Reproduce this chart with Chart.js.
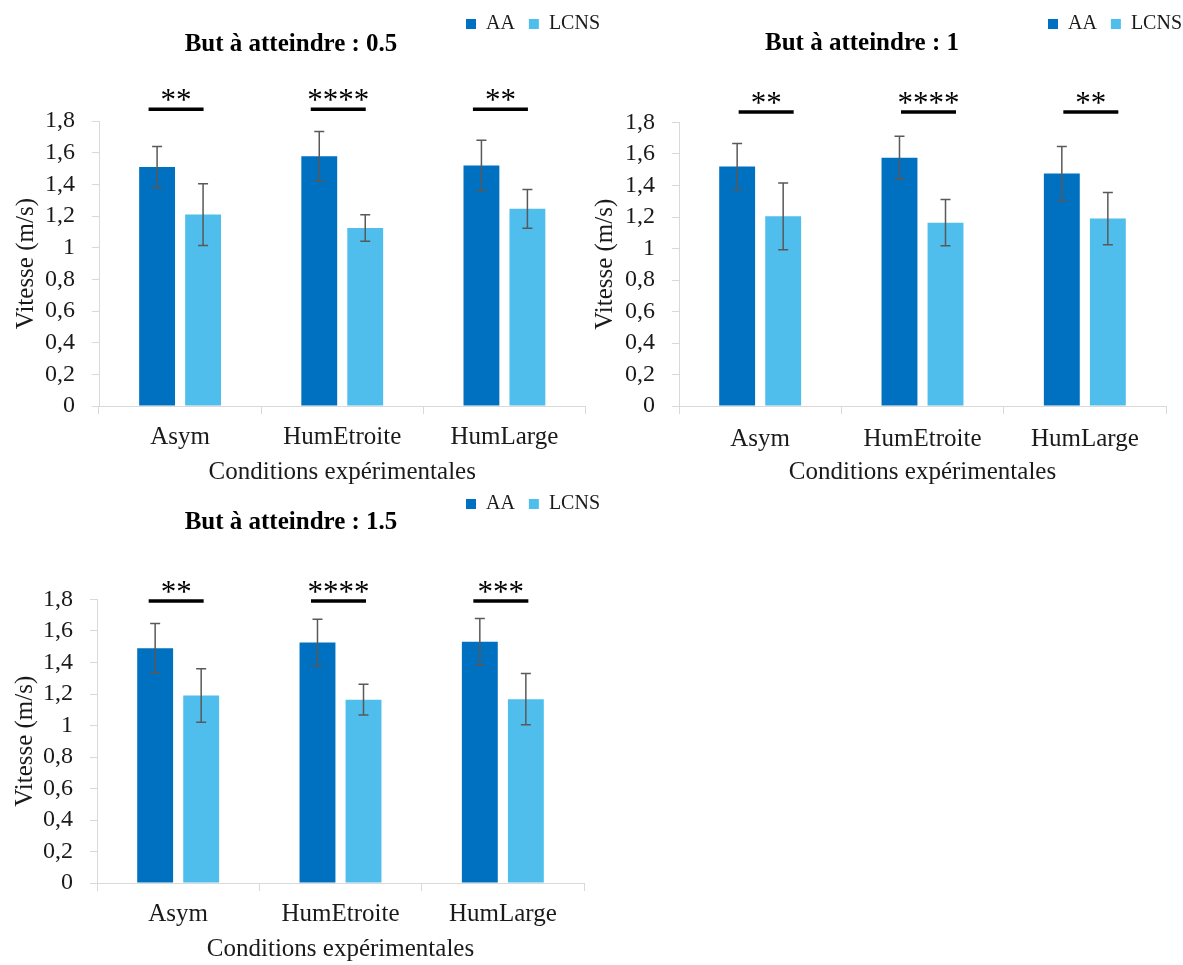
<!DOCTYPE html>
<html>
<head>
<meta charset="utf-8">
<script src="https://cdn.jsdelivr.net/npm/chart.js@4.4.1/dist/chart.umd.min.js"></script>
<style>
  body { margin: 0; background: #fff; overflow: hidden; }
  #page { position: relative; width: 1183px; height: 965px; overflow: hidden; background: #fff; }
  .box { position: absolute; }
</style>
</head>
<body>
<div id="page">
  <div class="box" id="box1"><canvas id="chart1"></canvas></div>
  <div class="box" id="box2"><canvas id="chart2"></canvas></div>
  <div class="box" id="box3"><canvas id="chart3"></canvas></div>
</div>
<script>
// data
const categories = ["Asym", "HumEtroite", "HumLarge"];
const seriesNames = ["AA", "LCNS"];
const chartTitles = ["But à atteindre : 0.5", "But à atteindre : 1", "But à atteindre : 1.5"];
const yTitle = "Vitesse (m/s)";
const xTitle = "Conditions expérimentales";
const yMax = 1.8;
const yStep = 0.2;

// goal 0.5
const aa05 = [1.51, 1.578, 1.52];
const aa05Err = [0.13, 0.157, 0.16];
const lcns05 = [1.21, 1.125, 1.246];
const lcns05Err = [0.195, 0.084, 0.123];
const stars05 = ["**", "****", "**"];

// goal 1
const aa1 = [1.52, 1.576, 1.476];
const aa1Err = [0.147, 0.136, 0.172];
const lcns1 = [1.204, 1.164, 1.19];
const lcns1Err = [0.212, 0.147, 0.166];
const stars1 = ["**", "****", "**"];

// goal 1.5
const aa15 = [1.49, 1.527, 1.532];
const aa15Err = [0.157, 0.147, 0.148];
const lcns15 = [1.19, 1.164, 1.167];
const lcns15Err = [0.17, 0.098, 0.163];
const stars15 = ["**", "****", "***"];

// height of the significance bars, in m/s
const sigLevels = [1.875, 1.867, 1.79];

const colors = ["#0070C0", "#4FBEEC"];
const FONT = "'Liberation Serif', 'Times New Roman', serif";

// error bars drawn from the bar elements
const errorBars = {
  id: "errorBars",
  afterDatasetsDraw(chart) {
    const { ctx } = chart;
    const y = chart.scales.y;
    ctx.save();
    ctx.strokeStyle = "#595959";
    ctx.lineWidth = 1.5;
    chart.data.datasets.forEach((ds, i) => {
      chart.getDatasetMeta(i).data.forEach((bar, j) => {
        const top = y.getPixelForValue(ds.data[j] + ds.errors[j]);
        const bot = y.getPixelForValue(ds.data[j] - ds.errors[j]);
        ctx.beginPath();
        ctx.moveTo(bar.x, top); ctx.lineTo(bar.x, bot);
        ctx.moveTo(bar.x - 5, top); ctx.lineTo(bar.x + 5, top);
        ctx.moveTo(bar.x - 5, bot); ctx.lineTo(bar.x + 5, bot);
        ctx.stroke();
      });
    });
    ctx.restore();
  }
};

// significance lines and stars above each group
const signif = {
  id: "signif",
  afterDraw(chart, args, opts) {
    const { ctx } = chart;
    const x = chart.scales.x, y = chart.scales.y;
    const yy = y.getPixelForValue(opts.level);
    ctx.save();
    ctx.strokeStyle = "#000";
    ctx.fillStyle = "#000";
    ctx.lineWidth = 3.5;
    ctx.font = "31px " + FONT;
    ctx.textAlign = "center";
    ctx.textBaseline = "alphabetic";
    opts.stars.forEach((s, i) => {
      const cx = x.getPixelForValue(i) + opts.shift;
      ctx.beginPath();
      ctx.moveTo(cx - 27.5, yy); ctx.lineTo(cx + 27.5, yy);
      ctx.stroke();
      ctx.fillText(s, cx, yy + 1);
    });
    ctx.restore();
  }
};

function fmt(v) {
  return String(Math.round(v * 10) / 10).replace(".", ",");
}

function makeChart(id, lay, title, aa, aaErr, lcns, lcnsErr, stars, level) {
  const box = document.getElementById("box" + id);
  box.style.left = lay.left + "px";
  box.style.top = lay.top + "px";
  box.style.width = lay.width + "px";
  box.style.height = lay.height + "px";

  const ctx = document.getElementById("chart" + id).getContext("2d");
  return new Chart(ctx, {
    type: "bar",
    data: {
      labels: categories,
      datasets: [
        { label: seriesNames[0], data: aa, errors: aaErr, backgroundColor: colors[0], borderWidth: 0,
          categoryPercentage: 0.567, barPercentage: 0.78 },
        { label: seriesNames[1], data: lcns, errors: lcnsErr, backgroundColor: colors[1], borderWidth: 0,
          categoryPercentage: 0.567, barPercentage: 0.78 },
      ],
    },
    options: {
      responsive: true,
      maintainAspectRatio: false,
      animation: false,
      layout: { padding: 0, autoPadding: false },
      plugins: {
        legend: {
          position: "top",
          align: "end",
          weight: 3000,
          labels: {
            boxWidth: 10, boxHeight: 10, padding: 14,
            color: "#1a1a1a",
            font: { family: FONT, size: 20 },
          },
        },
        title: {
          display: true,
          text: title,
          color: "#000",
          font: { family: FONT, size: 25, weight: "bold", lineHeight: 1.2 },
          padding: { top: lay.titleTop, bottom: lay.titleBottom },
        },
        tooltip: { enabled: false },
        signif: { level: level, stars: stars, shift: lay.sigShift },
      },
      scales: {
        x: {
          grid: { display: true, offset: true, drawOnChartArea: false, tickLength: 8, color: "#d9d9d9" },
          border: { color: "#d9d9d9" },
          ticks: { color: "#1a1a1a", font: { family: FONT, size: 25 }, padding: lay.xTickPad, maxRotation: 0 },
          title: { display: true, text: xTitle, color: "#1a1a1a", font: { family: FONT, size: 25 },
            padding: { top: 0, bottom: lay.xTitlePad } },
          afterFit(a) { a.height = lay.xHeight; },
        },
        y: {
          min: 0, max: yMax,
          grid: { display: true, drawOnChartArea: false, tickLength: 7, color: "#d9d9d9" },
          border: { color: "#d9d9d9" },
          ticks: { stepSize: yStep, autoSkip: false, color: "#1a1a1a", font: { family: FONT, size: 24 }, padding: 17,
            callback: (v) => fmt(v) },
          title: { display: true, text: yTitle, color: "#1a1a1a", font: { family: FONT, size: 25 },
            padding: { top: lay.yTitlePad, bottom: 0 } },
          afterFit(a) { a.width = lay.yWidth; },
        },
        gap: {
          position: "right",
          display: true,
          grid: { display: false },
          border: { display: false },
          ticks: { display: false },
          afterFit(a) { a.width = lay.rightGap; },
        },
      },
    },
    plugins: [errorBars, signif],
  });
}

const lay1 = { left: -32, top: 0, width: 646, height: 490, yWidth: 131, rightGap: 28.5, yTitlePad: 43.6,
  titleTop: -14, titleBottom: 61.2, xHeight: 84, xTickPad: 8, xTitlePad: 3, sigShift: -4 };
const lay2 = { left: 528, top: 0, width: 668, height: 490, yWidth: 151, rightGap: 30, yTitlePad: 62.6,
  titleTop: -15.4, titleBottom: 63.9, xHeight: 84, xTickPad: 10, xTitlePad: 2.5, sigShift: 6 };
const lay3 = { left: -32, top: 480, width: 646, height: 485, yWidth: 129, rightGap: 30, yTitlePad: 42.6,
  titleTop: -16.4, titleBottom: 61.9, xHeight: 82, xTickPad: 8, xTitlePad: 1, sigShift: -2 };

makeChart(1, lay1, chartTitles[0], aa05, aa05Err, lcns05, lcns05Err, stars05, sigLevels[0]);
makeChart(2, lay2, chartTitles[1], aa1, aa1Err, lcns1, lcns1Err, stars1, sigLevels[1]);
makeChart(3, lay3, chartTitles[2], aa15, aa15Err, lcns15, lcns15Err, stars15, sigLevels[2]);
</script>
</body>
</html>
